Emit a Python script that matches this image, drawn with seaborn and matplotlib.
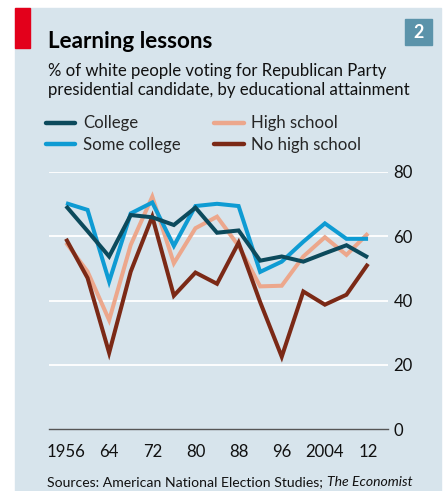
import numpy as np
import pandas as pd
import seaborn as sns
import matplotlib.pyplot as plt
from matplotlib.patches import Rectangle

years = [1956, 1960, 1964, 1968, 1972, 1976, 1980, 1984, 1988, 1992, 1996, 2000, 2004, 2008, 2012]
college = [69.4, 61.6, 53.7, 66.6, 65.9, 63.5, 68.9, 61.1, 61.8, 52.4, 53.7, 52.1, 54.7, 57.2, 53.4]
some_college = [70.3, 68.2, 45.9, 67.1, 70.5, 57.0, 69.4, 70.1, 69.4, 48.9, 52.1, 58.3, 64.0, 59.2, 59.2]
high_school = [58.0, 49.0, 33.9, 57.3, 72.3, 51.6, 62.5, 66.1, 57.0, 44.4, 44.6, 53.7, 59.7, 54.2, 60.9]
no_high_school = [59.2, 47.0, 23.7, 49.0, 66.1, 41.5, 48.7, 45.2, 58.0, 39.5, 22.5, 42.8, 38.7, 41.8, 51.4]

groups = ['College', 'Some college', 'High school', 'No high school']
colors = ['#0c4a5c', '#0e9bd3', '#eca78c', '#7b2916']
major_years = [1956, 1964, 1972, 1980, 1988, 1996, 2004, 2012]
major_labels = ['1956', '64', '72', '80', '88', '96', '2004', '12']
y_ticks = [0, 20, 40, 60, 80]

df = pd.DataFrame({'Year': years * 4,
                   'Share': college + some_college + high_school + no_high_school,
                   'Group': np.repeat(groups, len(years))})

sns.set_style('white')
plt.rcParams['font.family'] = ['Lato', 'DejaVu Sans']

W, H = 445, 491
fig = plt.figure(figsize=(W / 100, H / 100), dpi=100)
renderer = fig.canvas.get_renderer()


def fit(t, width_px):
    # scale a text so it spans the width seen in the reference
    w = t.get_window_extent(renderer).width
    t.set_fontsize(t.get_fontsize() * width_px / w)
    return t.get_fontsize()


bg = '#d7e4ec'
fig.patches.append(Rectangle((15 / W, 0), 426 / W, 1 - 8 / H, transform=fig.transFigure,
                             color=bg, zorder=-10))
fig.patches.append(Rectangle((15 / W, 1 - 48 / H), 15 / W, 40 / H, transform=fig.transFigure,
                             color='#e3001b', zorder=-9))
fig.patches.append(Rectangle((405 / W, 1 - 45 / H), 27 / W, 26 / H, transform=fig.transFigure,
                             color='#5b93aa', zorder=-9))
fig.text(418.5 / W, 1 - 32 / H, '2', color='white', fontsize=13, fontweight='bold',
         ha='center', va='center')

title = fig.text(48 / W, 1 - 48 / H, 'Learning lessons', fontsize=17, fontweight='bold',
                 color='black', va='baseline')
fit(title, 165)
sub1 = fig.text(48 / W, 1 - 76 / H, '% of white people voting for Republican Party',
                fontsize=12, color='#111111', va='baseline')
sub2 = fig.text(48 / W, 1 - 94.5 / H, 'presidential candidate, by educational attainment',
                fontsize=12, color='#111111', va='baseline')
fs = fit(sub2, 361)
sub1.set_fontsize(fs)

ax = fig.add_axes([49 / W, 1 - 429 / H, 339 / W, 257 / H])
ax.set_facecolor('none')
sns.lineplot(data=df, x='Year', y='Share', hue='Group', hue_order=groups, palette=colors,
             linewidth=2.9, ax=ax, legend=True)
for line, z in zip(ax.lines, [6, 4, 3, 5]):
    line.set_zorder(z)
    line.set_solid_joinstyle('miter')
    line.set_solid_capstyle('butt')
    line.set_clip_on(False)

ax.set_xlim(1952.85, 2015.7)
ax.set_ylim(0, 80)
for y in y_ticks[1:]:
    ax.axhline(y, color='white', lw=1.3, zorder=1)
for s in ['top', 'left', 'right']:
    ax.spines[s].set_visible(False)
ax.spines['bottom'].set_color('#555555')
ax.spines['bottom'].set_linewidth(1.0)
ax.spines['bottom'].set_zorder(2)

ax.set_xticks(major_years)
ax.set_xticklabels(major_labels)
ax.set_xticks(years, minor=True)
ax.tick_params(axis='x', which='major', direction='in', length=6, width=0.8, color='#555555',
               labelsize=fs, pad=11, labelcolor='#111111')
ax.tick_params(axis='x', which='minor', direction='in', length=3.5, width=0.8, color='#555555')
ax.yaxis.tick_right()
ax.set_yticks(y_ticks)
ax.set_yticklabels([str(v) for v in y_ticks])
ax.tick_params(axis='y', length=0, labelsize=fs, pad=4, labelcolor='#111111')
ax.set_xlabel('')
ax.set_ylabel('')

handles, labels = ax.get_legend_handles_labels()
leg = ax.legend(handles, labels, ncol=2, loc='center left',
                bbox_to_anchor=(46 / W, 1 - 134 / H), bbox_transform=fig.transFigure,
                frameon=False, fontsize=fs, handlelength=1.75, handletextpad=0.45,
                columnspacing=2.0, labelspacing=0.3, borderaxespad=0, borderpad=0)
for h in leg.legend_handles:
    h.set_linewidth(3.2)

src = fig.text(47 / W, 1 - 486 / H, 'Sources: American National Election Studies; ',
               fontsize=11, color='#111111', va='baseline')
eco = fig.text(0, 1 - 486 / H, 'The Economist', fontsize=11, color='#111111',
               style='italic', va='baseline')
w_all = src.get_window_extent(renderer).width + eco.get_window_extent(renderer).width
s = 364 / w_all
src.set_fontsize(11 * s)
eco.set_fontsize(11 * s)
bb = src.get_window_extent(renderer)
eco.set_x(bb.x1 / W)

fig.savefig('out.png', dpi=100, facecolor='white')
